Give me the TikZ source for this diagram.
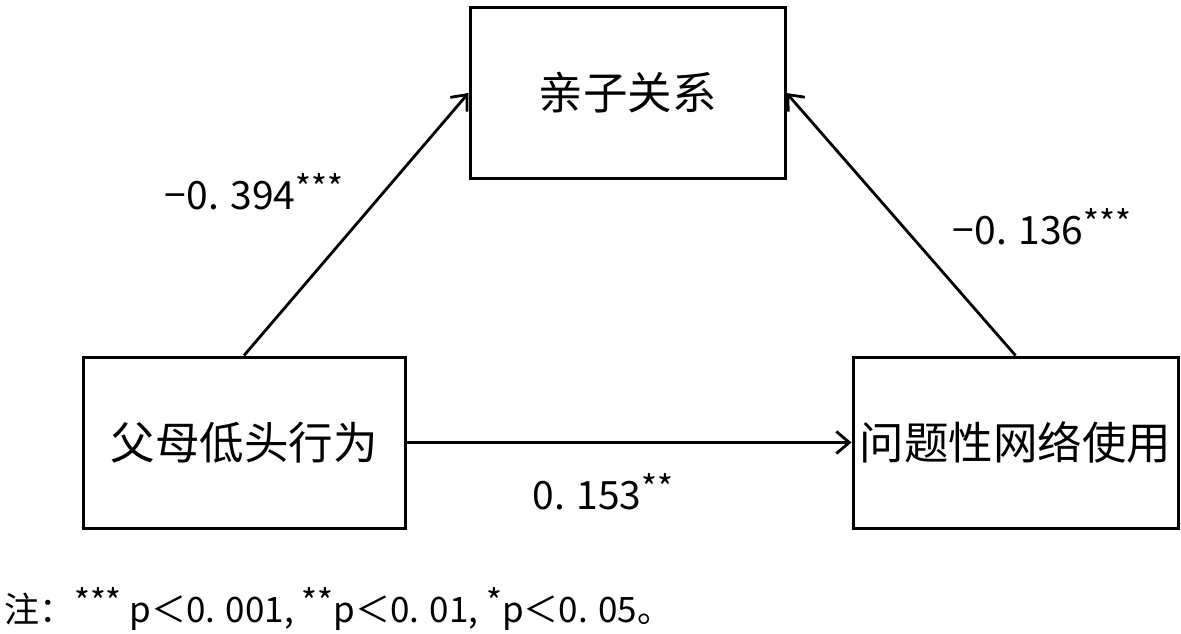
\documentclass[tikz,border=0pt]{standalone}
\usepackage{fontspec}
\setmainfont{Noto Sans CJK SC}
\usetikzlibrary{arrows.meta}
\newcommand{\stars}[1]{\raisebox{0.22em}{\fontsize{34}{34}\selectfont #1}}
\tikzset{
  box/.style={draw, line width=3pt, minimum width=#1, minimum height=171pt, inner sep=0pt,
    font=\fontsize{44.5}{52}\selectfont},
  conn/.style={line width=2.8pt, -{Straight Barb[length=13pt,width=22pt,line width=2.8pt]}},
  lab/.style={font=\fontsize{39}{44}\selectfont, inner sep=0pt},
}
\begin{document}
\begin{tikzpicture}[x=1pt,y=-1pt]
\useasboundingbox (0,0) rectangle (1181,634);
\node[box=315pt, minimum height=170pt] (T) at (627.5,93) {亲子关系};
\node[box=322pt] (L) at (244,442.5) {父母低头行为};
\node[box=325pt] (R) at (1015.5,442.5) {问题性网络使用};
\draw[conn] (L.north) -- (T.west);
\draw[conn] (R.north) -- (T.east);
\draw[conn] (L.east) -- (R.west);
\node[lab] (a) at (254,192) {−0. 394\stars{***}};
\node[lab] (b) at (1042,227) {−0. 136\stars{***}};
\node[lab] (c) at (603,492) {0. 153\stars{**}};
\node[lab, anchor=west, font=\fontsize{35}{40}\selectfont] (n) at (4,609) {注：\stars{***} p＜0. 001, \stars{**}p＜0. 01, \stars{*}p＜0. 05。};
\end{tikzpicture}
\end{document}
